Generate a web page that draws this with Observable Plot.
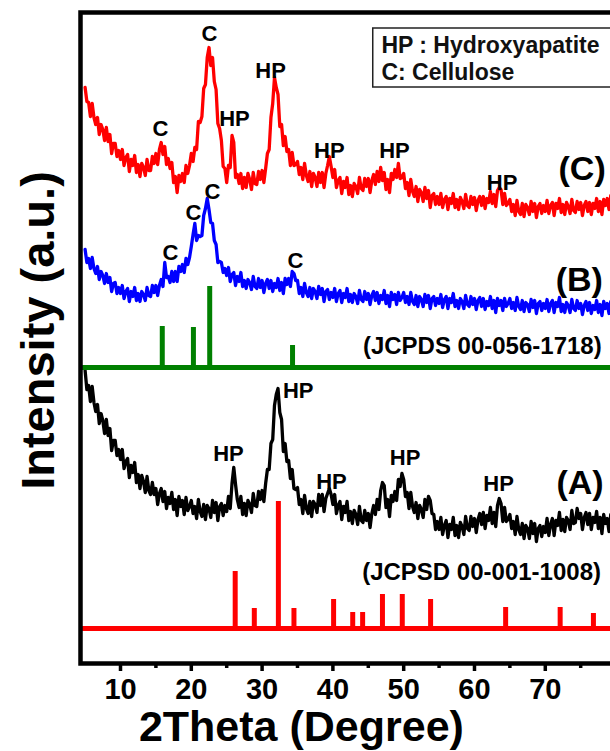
<!DOCTYPE html>
<html>
<head>
<meta charset="utf-8">
<script src="https://cdn.jsdelivr.net/npm/d3@7"></script>
<script src="https://cdn.jsdelivr.net/npm/@observablehq/plot@0.6"></script>
<style>
  html, body { margin: 0; padding: 0; overflow: hidden; background: #fff; }
  #chart svg { max-width: none !important; display: block; }
</style>
</head>
<body>
<div id="chart"></div>
<script>
// 2θ grid (degrees), step 0.25
const twoTheta = [
  5,5.25,5.5,5.75,6,6.25,6.5,6.75,7,7.25,7.5,7.75,8,8.25,8.5,8.75,9,9.25,9.5,9.75,
  10,10.25,10.5,10.75,11,11.25,11.5,11.75,12,12.25,12.5,12.75,13,13.25,13.5,13.75,14,14.25,14.5,14.75,
  15,15.25,15.5,15.75,16,16.25,16.5,16.75,17,17.25,17.5,17.75,18,18.25,18.5,18.75,19,19.25,19.5,19.75,
  20,20.25,20.5,20.75,21,21.25,21.5,21.75,22,22.25,22.5,22.75,23,23.25,23.5,23.75,24,24.25,24.5,24.75,
  25,25.25,25.5,25.75,26,26.25,26.5,26.75,27,27.25,27.5,27.75,28,28.25,28.5,28.75,29,29.25,29.5,29.75,
  30,30.25,30.5,30.75,31,31.25,31.5,31.75,32,32.25,32.5,32.75,33,33.25,33.5,33.75,34,34.25,34.5,34.75,
  35,35.25,35.5,35.75,36,36.25,36.5,36.75,37,37.25,37.5,37.75,38,38.25,38.5,38.75,39,39.25,39.5,39.75,
  40,40.25,40.5,40.75,41,41.25,41.5,41.75,42,42.25,42.5,42.75,43,43.25,43.5,43.75,44,44.25,44.5,44.75,
  45,45.25,45.5,45.75,46,46.25,46.5,46.75,47,47.25,47.5,47.75,48,48.25,48.5,48.75,49,49.25,49.5,49.75,
  50,50.25,50.5,50.75,51,51.25,51.5,51.75,52,52.25,52.5,52.75,53,53.25,53.5,53.75,54,54.25,54.5,54.75,
  55,55.25,55.5,55.75,56,56.25,56.5,56.75,57,57.25,57.5,57.75,58,58.25,58.5,58.75,59,59.25,59.5,59.75,
  60,60.25,60.5,60.75,61,61.25,61.5,61.75,62,62.25,62.5,62.75,63,63.25,63.5,63.75,64,64.25,64.5,64.75,
  65,65.25,65.5,65.75,66,66.25,66.5,66.75,67,67.25,67.5,67.75,68,68.25,68.5,68.75,69,69.25,69.5,69.75,
  70,70.25,70.5,70.75,71,71.25,71.5,71.75,72,72.25,72.5,72.75,73,73.25,73.5,73.75,74,74.25,74.5,74.75,
  75,75.25,75.5,75.75,76,76.25,76.5,76.75,77,77.25,77.5,77.75,78,78.25,78.5,78.75,79,79.25,79.5,79.75,
  80
];

// (C) curve (offset intensity, a.u.)
const curveC = [
  576,562,561,547,560,546,539,546,529,539,534,523,536,522,529,510,520,520,507,513,
  504,514,498,506,509,492,504,498,508,491,499,487,500,496,488,504,493,493,507,500,
  510,499,514,521,509,517,499,505,495,501,481,487,471,488,482,490,481,498,490,498,
  510,502,516,514,542,541,547,575,579,606,616,598,606,582,574,540,535,523,497,495,
  481,498,496,528,521,486,489,480,490,475,486,476,490,484,474,491,480,479,492,484,
  493,481,495,510,514,546,560,586,576,569,537,539,518,527,512,514,498,511,498,499,
  502,489,496,484,500,488,482,492,477,490,486,477,491,481,491,476,490,498,507,497,
  486,494,476,483,486,470,482,476,486,469,478,467,480,477,470,486,475,473,485,477,
  485,471,483,489,479,492,482,496,483,491,474,484,471,490,484,494,486,500,485,486,
  490,475,481,468,484,472,467,477,462,474,471,462,476,465,473,456,468,470,459,467,
  459,470,456,464,467,454,465,460,470,456,464,454,466,462,455,469,458,456,467,459,
  466,453,463,467,458,467,455,465,461,472,460,469,457,473,476,474,459,470,458,460,
  464,452,459,448,463,452,449,460,447,459,456,449,462,452,460,446,457,460,450,458,
  452,463,450,458,461,448,460,455,465,451,459,449,461,457,450,464,453,451,462,454,
  461,448,458,462,452,461,449,460,455,465,452,462,449,464,458,465,454,468,458,462,
  458
];

// (B) curve
const curveB = [
  414,401,405,395,406,395,390,397,384,392,388,380,390,381,386,372,380,381,370,376,
  370,378,365,372,375,362,372,367,376,363,370,362,372,369,363,376,368,367,378,371,
  378,368,378,384,377,401,386,387,381,392,382,392,382,397,392,399,391,405,399,406,
  417,429,440,423,428,427,428,448,455,465,454,441,440,423,419,401,402,401,391,395,
  388,396,382,389,391,378,387,382,391,377,383,375,384,381,374,387,377,375,385,376,
  383,371,380,384,375,383,372,380,376,385,373,381,370,385,379,385,377,392,390,383,
  383,370,376,367,380,371,367,376,365,375,372,365,377,369,375,362,372,374,364,371,
  366,375,362,370,373,361,370,366,375,362,369,361,370,367,360,373,364,362,372,364,
  370,359,368,372,363,371,360,368,364,373,360,368,357,371,364,369,359,371,363,366,
  371,361,367,359,371,362,359,368,357,367,364,357,369,361,368,355,365,367,358,365,
  360,369,356,364,367,355,365,361,370,357,363,355,365,362,355,368,359,357,367,359,
  365,354,363,366,357,365,354,362,358,367,355,363,351,365,358,363,353,365,357,360,
  365,355,361,353,366,357,354,363,352,361,359,352,364,356,363,350,360,362,353,360,
  355,364,352,360,363,351,361,357,366,352,359,351,361,358,351,364,355,353,363,355,
  360,349,358,362,353,361,350,358,354,363,351,359,348,362,355,360,350,362,354,357,
  355
];

// (A) curve
const curveA = [
  293,274,278,262,277,261,252,259,240,250,243,230,244,228,235,213,223,223,208,214,
  204,214,195,202,205,186,198,191,201,181,189,175,188,182,171,187,173,169,181,169,
  175,159,170,175,162,172,155,166,160,171,154,164,148,167,157,163,149,166,153,157,
  163,150,157,145,164,152,147,159,144,158,155,146,163,151,161,143,157,160,148,158,
  152,167,155,180,196,179,164,156,167,149,160,148,163,159,151,170,158,157,172,164,
  173,162,180,194,194,220,224,258,269,275,251,244,212,220,202,203,185,194,175,174,
  176,159,164,150,168,155,150,162,147,162,159,151,169,158,169,152,165,170,175,169,
  159,169,150,158,162,144,157,151,162,143,152,140,153,149,139,157,143,141,153,143,
  150,136,150,158,149,164,154,173,181,178,156,164,147,168,162,172,163,184,177,190,
  184,167,171,155,171,157,151,161,145,158,154,146,164,154,167,163,150,149,134,142,
  134,146,129,138,143,126,139,134,146,128,138,126,141,137,129,147,135,133,147,137,
  145,131,144,150,139,151,135,148,143,156,140,151,137,158,165,160,142,156,142,144,
  149,135,142,129,147,134,129,140,125,138,135,125,142,130,140,122,135,138,127,137,
  131,145,128,139,145,128,143,138,151,133,144,132,146,143,134,153,140,141,155,145,
  150,134,146,151,139,150,134,146,141,152,135,146,130,149,140,145,132,149,137,140,
  138
];

// Reference pattern: cellulose (JCPDS 00-056-1718)
const celluloseBase = 296;
const cellulosePos = [15.9, 20.3, 22.6, 34.3];
const celluloseTop = [337, 336, 377, 318];

// Reference pattern: hydroxyapatite (JCPSD 00-001-1008)
const hapBase = 35;
const hapPos = [26.2, 28.9, 32.3, 34.5, 40.1, 42.8, 44.2, 47.0, 49.8, 53.8, 64.4, 72.1, 76.8];
const hapTop = [92, 55, 162, 55, 64, 51, 51, 69, 69, 64, 56, 56, 50];

// Peak annotations
const peakText = ["C","HP","C","HP","HP","HP","HP",  "C","C","C","C",  "HP","HP","HP","HP","HP"];
const peakX    = [22.57,31.2,15.65,26.1,39.5,48.7,63.9, 23.0,20.3,17.06,34.7, 35.1,25.25,39.8,50.2,63.4];
const peakY    = [630,593,535,545,513,513,481, 472,451,411,403, 273,210,182,206,180];

// Sample labels
const sampleText = ["(C)", "(B)", "(A)"];
const sampleX = [75.2, 74.8, 74.9];
const sampleY = [494, 383, 180];

// Reference card labels
const cardText = ["(JCPDS 00-056-1718)", "(JCPSD 00-001-1008)"];
const cardX = [61.1, 61.0];
const cardY = [317, 91];

// Key box
const keyLines = ["HP : Hydroxyapatite", "C: Cellulose"];
const keyY = [618, 591];

const majorTicks = [10, 20, 30, 40, 50, 60, 70];
const minorTicks = [15, 25, 35, 45, 55, 65, 75];

const toRows = (ys) => twoTheta.map((x, i) => ({x, y: ys[i]}));
const font = "'Liberation Sans', Arial, Helvetica, sans-serif";

const chart = Plot.plot({
  width: 622,
  height: 751,
  marginLeft: 80,
  marginRight: 5,
  marginTop: 12,
  marginBottom: 88,
  style: {fontFamily: font, color: "#000", background: "#fff", maxWidth: "none"},
  x: {domain: [4.35, 80.2]},
  y: {domain: [0, 651], axis: null},
  marks: [
    // key box
    Plot.rect([0], {x1: () => 45.7, x2: () => 83, y1: () => 576, y2: () => 635, fill: "white", stroke: "#222", strokeWidth: 1.5}),
    Plot.text(keyLines, {x: () => 46.85, y: (d, i) => keyY[i], text: d => d, textAnchor: "start", lineAnchor: "middle", fontSize: 23, fontWeight: "bold", fill: "#111"}),

    // measured curves
    Plot.line(toRows(curveC), {x: "x", y: "y", stroke: "#ff0000", strokeWidth: 3.3, strokeLinejoin: "round"}),
    Plot.line(toRows(curveB), {x: "x", y: "y", stroke: "#0000ff", strokeWidth: 3.3, strokeLinejoin: "round"}),
    Plot.line(toRows(curveA), {x: "x", y: "y", stroke: "#000000", strokeWidth: 3.3, strokeLinejoin: "round"}),

    // reference patterns
    Plot.ruleY([celluloseBase], {stroke: "#008000", strokeWidth: 5}),
    Plot.ruleX(cellulosePos, {x: d => d, y1: () => celluloseBase, y2: (d, i) => celluloseTop[i], stroke: "#008000", strokeWidth: 5}),
    Plot.ruleY([hapBase], {stroke: "#ff0000", strokeWidth: 5}),
    Plot.ruleX(hapPos, {x: d => d, y1: () => hapBase, y2: (d, i) => hapTop[i], stroke: "#ff0000", strokeWidth: 5}),

    // annotations
    Plot.text(peakText, {x: (d, i) => peakX[i], y: (d, i) => peakY[i], text: d => d, fontSize: 22, fontWeight: "bold", fill: "#000", lineAnchor: "middle"}),
    Plot.text(sampleText, {x: (d, i) => sampleX[i], y: (d, i) => sampleY[i], text: d => d, fontSize: 34, fontWeight: "bold", fill: "#000", lineAnchor: "middle"}),
    Plot.text(cardText, {x: (d, i) => cardX[i], y: (d, i) => cardY[i], text: d => d, fontSize: 24, fontWeight: "bold", fill: "#000", lineAnchor: "middle"}),

    // axes
    Plot.axisX(majorTicks, {tickSize: 8, tickPadding: 7, strokeWidth: 3.5, fontSize: 29, fontWeight: "bold", label: null, fill: "#000", stroke: "#000"}),
    Plot.axisX(minorTicks, {tickSize: 5, strokeWidth: 3.5, tickFormat: () => "", label: null, stroke: "#000"}),
    Plot.text(["2Theta (Degree)"], {x: () => 35.55, frameAnchor: "bottom", dy: 64, text: d => d, fontSize: 43, fontWeight: "bold", fill: "#000", lineAnchor: "middle"}),
    Plot.text(["Intensity (a.u.)"], {x: () => -1.58, y: () => 333, rotate: -90, text: d => d, textAnchor: "middle", lineAnchor: "middle", fontSize: 47, fontWeight: "bold", fill: "#000"}),

    Plot.frame({stroke: "#000", strokeWidth: 4.5})
  ]
});

document.getElementById("chart").append(chart);
</script>
</body>
</html>
